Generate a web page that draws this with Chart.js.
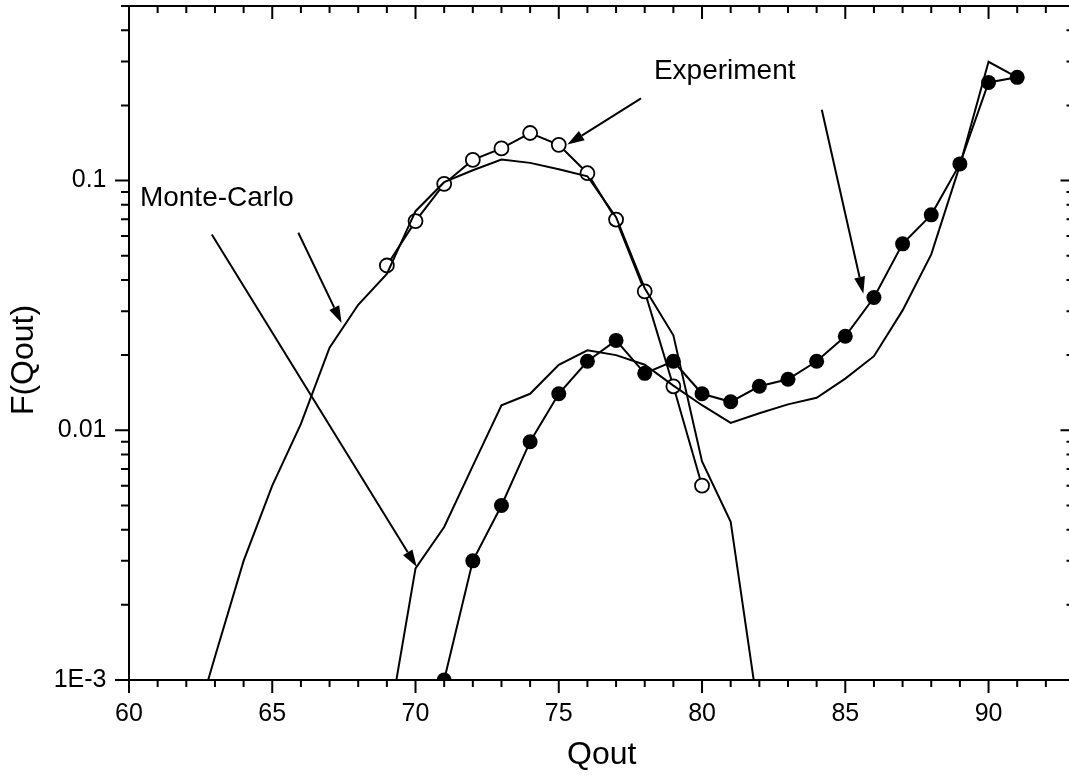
<!DOCTYPE html>
<html>
<head>
<meta charset="utf-8">
<script src="https://cdn.jsdelivr.net/npm/chart.js@4.4.1/dist/chart.umd.min.js"></script>
<style>
html, body { margin: 0; padding: 0; background: #fff; overflow: hidden; }
/* a bit wider than the window: the right frame edge falls just outside the picture */
#wrap { width: 1075px; height: 779px; }
</style>
</head>
<body>
<div id="wrap"><canvas id="chart"></canvas></div>
<script>
// Monte-Carlo curves (lines only)
const mc1Q = [62, 63, 64, 65, 66, 67, 68, 69, 70, 71, 72, 73, 74, 75, 76, 77, 78, 79, 80, 81, 82];
const mc1F = [0.0005, 0.00124, 0.0030, 0.0060, 0.0106, 0.0214, 0.0318, 0.0423, 0.0754, 0.0985, 0.110, 0.1213, 0.1177, 0.111, 0.104, 0.0713, 0.037, 0.024, 0.0075, 0.0043, 0.0007];
const mc2Q = [69, 70, 71, 72, 73, 74, 75, 76, 77, 78, 79, 80, 81, 82, 83, 84, 85, 86, 87, 88, 89, 90, 91];
const mc2F = [0.0006, 0.0028, 0.0041, 0.0072, 0.0126, 0.0140, 0.0183, 0.0209, 0.0200, 0.0183, 0.0151, 0.0126, 0.0107, 0.0117, 0.0127, 0.0135, 0.0161, 0.0198, 0.0302, 0.0506, 0.115, 0.299, 0.259];

// Experiment (open and filled circles)
const expOpenQ = [69, 70, 71, 72, 73, 74, 75, 76, 77, 78, 79, 80];
const expOpenF = [0.0457, 0.0688, 0.097, 0.121, 0.1345, 0.155, 0.139, 0.107, 0.0698, 0.036, 0.0150, 0.0060];
const expFilledQ = [71, 72, 73, 74, 75, 76, 77, 78, 79, 80, 81, 82, 83, 84, 85, 86, 87, 88, 89, 90, 91];
const expFilledF = [0.001, 0.0030, 0.0050, 0.0090, 0.0140, 0.0189, 0.0229, 0.0169, 0.0189, 0.0140, 0.0130, 0.0150, 0.0160, 0.0189, 0.0238, 0.0340, 0.0558, 0.0729, 0.1166, 0.247, 0.259];

// axes
const xTickValues = [60, 65, 70, 75, 80, 85, 90];
const yTickValues = [0.001, 0.01, 0.1];
const yTickLabels = ['1E-3', '0.01', '0.1'];
const yTitle = 'F(Qout)';

// annotations (in data units)
const noteTexts = ['Monte-Carlo', 'Experiment'];
const noteQ = [60.38, 78.32];
const noteF = [0.0849, 0.275];
const arrowFromQ = [62.89, 65.91, 77.87, 84.18];
const arrowFromF = [0.0608, 0.0618, 0.2133, 0.192];
const arrowToQ = [70.04, 67.42, 75.30, 85.63];
const arrowToF = [0.00284, 0.0269, 0.1393, 0.0352];

const FONT = "'Liberation Sans', Arial, sans-serif";

function pairs(qs, fs) {
    const out = [];
    for (let i = 0; i < qs.length; i++) {
        out.push({ x: qs[i], y: fs[i] });
    }
    return out;
}

const frameAndNotes = {
    id: 'frameAndNotes',
    afterDraw(chart) {
        const { ctx, chartArea: a, scales: { x, y } } = chart;
        ctx.save();
        ctx.strokeStyle = '#000';
        ctx.fillStyle = '#000';
        ctx.lineWidth = 2;
        ctx.strokeRect(a.left, a.top, a.right - a.left, a.bottom - a.top);

        // ticks
        ctx.beginPath();
        for (let q = x.min; q <= x.max; q++) {
            const px = x.getPixelForValue(q);
            const len = q % 5 === 0 ? 13 : 7;
            ctx.moveTo(px, a.bottom);
            ctx.lineTo(px, a.bottom + len);
            ctx.moveTo(px, a.top);
            ctx.lineTo(px, a.top + len);
        }
        for (let d = -3; d <= -1; d++) {
            for (let m = 1; m <= 9; m++) {
                const v = m * Math.pow(10, d);
                if (v > y.max * 1.0001) continue;
                const py = y.getPixelForValue(v);
                const len = m === 1 ? 14 : 8;
                ctx.moveTo(a.left - len, py);
                ctx.lineTo(a.left, py);
                ctx.moveTo(a.right - len, py);
                ctx.lineTo(a.right, py);
            }
        }
        ctx.stroke();

        // arrows
        for (let i = 0; i < arrowFromQ.length; i++) {
            const x0 = x.getPixelForValue(arrowFromQ[i]);
            const y0 = y.getPixelForValue(arrowFromF[i]);
            const x1 = x.getPixelForValue(arrowToQ[i]);
            const y1 = y.getPixelForValue(arrowToF[i]);
            const ang = Math.atan2(y1 - y0, x1 - x0);
            const headLen = 17, headHalf = 5.5;
            const bx = x1 - headLen * Math.cos(ang);
            const by = y1 - headLen * Math.sin(ang);
            ctx.beginPath();
            ctx.moveTo(x0, y0);
            ctx.lineTo(bx, by);
            ctx.stroke();
            ctx.beginPath();
            ctx.moveTo(x1, y1);
            ctx.lineTo(bx + headHalf * Math.sin(ang), by - headHalf * Math.cos(ang));
            ctx.lineTo(bx - headHalf * Math.sin(ang), by + headHalf * Math.cos(ang));
            ctx.closePath();
            ctx.fill();
        }

        // labels
        ctx.font = '28px ' + FONT;
        ctx.textAlign = 'left';
        ctx.textBaseline = 'middle';
        for (let i = 0; i < noteTexts.length; i++) {
            ctx.fillText(noteTexts[i], x.getPixelForValue(noteQ[i]), y.getPixelForValue(noteF[i]));
        }

        // y axis title, sitting a little below the axis middle as in the original
        ctx.font = '32px ' + FONT;
        ctx.textAlign = 'center';
        ctx.translate(24, (a.top + a.bottom) / 2 + 17);
        ctx.rotate(-Math.PI / 2);
        ctx.fillText(yTitle, 0, 0);
        ctx.restore();
    }
};

const lineStyle = {
    borderColor: '#000',
    borderWidth: 2,
    pointRadius: 0,
    fill: false,
    tension: 0,
    clip: 0
};

const config = {
    type: 'line',
    data: {
        datasets: [
            Object.assign({ label: 'Monte-Carlo 1', data: pairs(mc1Q, mc1F) }, lineStyle),
            Object.assign({ label: 'Monte-Carlo 2', data: pairs(mc2Q, mc2F) }, lineStyle),
            {
                label: 'Experiment (open)',
                data: pairs(expOpenQ, expOpenF),
                borderColor: '#000',
                borderWidth: 2,
                pointRadius: 7,
                pointBorderWidth: 1.8,
                pointBorderColor: '#000',
                pointBackgroundColor: '#fff',
                clip: 0
            },
            {
                label: 'Experiment (filled)',
                data: pairs(expFilledQ, expFilledF),
                borderColor: '#000',
                borderWidth: 2,
                pointRadius: 7.5,
                pointBorderWidth: 0,
                pointBackgroundColor: '#000',
                clip: 0
            }
        ]
    },
    options: {
        responsive: true,
        maintainAspectRatio: false,
        animation: false,
        layout: { autoPadding: false, padding: { top: 6, left: 0, right: 0.5, bottom: 0 } },
        plugins: {
            legend: { display: false },
            tooltip: { enabled: false }
        },
        scales: {
            x: {
                type: 'linear',
                min: 60,
                max: 93,
                grid: { display: false, drawTicks: false },
                border: { display: false },
                afterBuildTicks: function (scale) {
                    scale.ticks = xTickValues.map(v => ({ value: v }));
                },
                afterFit: function (scale) {
                    scale.height = 99;
                    scale.paddingLeft = 0;
                    scale.paddingRight = 0;
                },
                ticks: {
                    color: '#000',
                    padding: 19,
                    font: { family: FONT, size: 25 },
                    maxRotation: 0,
                    autoSkip: false
                },
                title: {
                    display: true,
                    text: 'Qout',
                    color: '#000',
                    font: { family: FONT, size: 32 },
                    padding: { top: 0, bottom: 5 }
                }
            },
            y: {
                type: 'logarithmic',
                min: 0.001,
                max: 0.5,
                grid: { display: false, drawTicks: false },
                border: { display: false },
                afterBuildTicks: function (scale) {
                    scale.ticks = yTickValues.map(v => ({ value: v }));
                },
                afterFit: function (scale) {
                    scale.width = 129;
                    scale.paddingTop = 0;
                    scale.paddingBottom = 0;
                },
                ticks: {
                    color: '#000',
                    padding: 22.5,
                    font: { family: FONT, size: 25 },
                    autoSkip: false,
                    callback: function (value) {
                        const i = yTickValues.findIndex(v => Math.abs(v - value) < v * 1e-6);
                        return i >= 0 ? yTickLabels[i] : '';
                    }
                },
                title: { display: false }
            }
        }
    },
    plugins: [frameAndNotes]
};

new Chart(document.getElementById('chart').getContext('2d'), config);
</script>
</body>
</html>
